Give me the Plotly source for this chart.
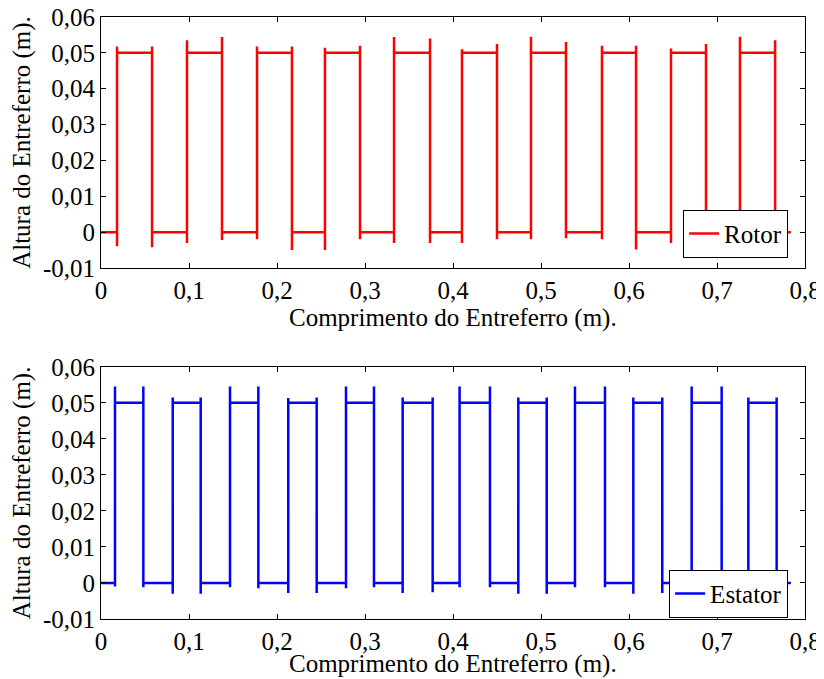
import plotly.graph_objects as go
from plotly.subplots import make_subplots

# plateau height of a tooth (m)
level = 0.05
x_end = 0.784

# Rotor: position of each rising / falling edge (m), and the spike reached there
rotor_rise = [0.0182, 0.0977, 0.1773, 0.2545, 0.333, 0.4102, 0.4886, 0.5693, 0.6477, 0.7261]
rotor_fall = [0.058, 0.1375, 0.217, 0.2943, 0.3739, 0.45, 0.5284, 0.608, 0.6875, 0.766]
rotor_peak_rise = [0.0518, 0.0535, 0.0518, 0.0514, 0.0544, 0.0510, 0.0545, 0.0520, 0.0512, 0.0545]
rotor_peak_fall = [0.0518, 0.0544, 0.0518, 0.0520, 0.0540, 0.0525, 0.0530, 0.0520, 0.0525, 0.0535]
rotor_dip_rise = [-0.0039, -0.0030, -0.0020, -0.0050, -0.0030, -0.0030, -0.0020, -0.0020, -0.0030, -0.0030]
rotor_dip_fall = [-0.0042, -0.0022, -0.0050, -0.0020, -0.0030, -0.0020, -0.0017, -0.0048, -0.0030, -0.0030]

# Estator
estator_rise = [0.0159, 0.0815, 0.1466, 0.2128, 0.2784, 0.3428, 0.4075, 0.4742, 0.5386, 0.6049, 0.6712, 0.7356]
estator_fall = [0.0481, 0.1133, 0.1788, 0.2451, 0.3102, 0.3769, 0.4420, 0.5065, 0.5727, 0.6378, 0.7053, 0.7678]
estator_peak_rise = [0.0545, 0.0515, 0.0545, 0.0513, 0.0545, 0.0515, 0.0545, 0.0515, 0.0545, 0.0515, 0.0545, 0.0515]
estator_peak_fall = [0.0545, 0.0515, 0.0545, 0.0515, 0.0545, 0.0515, 0.0545, 0.0515, 0.0545, 0.0515, 0.0545, 0.0515]
estator_dip_rise = [-0.0010, -0.0030, -0.0012, -0.0028, -0.0015, -0.0028, -0.0012, -0.0030, -0.0012, -0.0030, -0.0012, -0.0028]
estator_dip_fall = [-0.0012, -0.0030, -0.0015, -0.0028, -0.0012, -0.0026, -0.0012, -0.0030, -0.0012, -0.0028, -0.0012, -0.0028]

x_ticks = [0, 0.1, 0.2, 0.3, 0.4, 0.5, 0.6, 0.7, 0.8]
x_labels = ["0", "0,1", "0,2", "0,3", "0,4", "0,5", "0,6", "0,7", "0,8"]
y_ticks = [-0.01, 0, 0.01, 0.02, 0.03, 0.04, 0.05, 0.06]
y_labels = ["-0,01", "0", "0,01", "0,02", "0,03", "0,04", "0,05", "0,06"]

x_title = "Comprimento do Entreferro (m)."
y_title = "Altura do Entreferro (m)."

FONT = "Times New Roman, Liberation Serif, DejaVu Serif, serif"
TXT = dict(family=FONT, size=25, color="black")


def profile(rise, fall, peak_r, peak_f, dip_r, dip_f):
    # walk along the gap: low, dip, jump up with overshoot, plateau, overshoot, drop
    xs, ys = [0.0], [0.0]
    for i in range(len(rise)):
        xs += [rise[i]] * 4 + [fall[i]] * 4
        ys += [0.0, dip_r[i], peak_r[i], level, level, peak_f[i], dip_f[i], 0.0]
    xs.append(x_end)
    ys.append(0.0)
    return xs, ys


fig = make_subplots(rows=2, cols=1)

rx, ry = profile(rotor_rise, rotor_fall, rotor_peak_rise, rotor_peak_fall, rotor_dip_rise, rotor_dip_fall)
sx, sy = profile(estator_rise, estator_fall, estator_peak_rise, estator_peak_fall, estator_dip_rise, estator_dip_fall)

fig.add_trace(go.Scatter(x=rx, y=ry, mode="lines", name="Rotor",
                         line=dict(color="#ff0000", width=2.5), legend="legend"), row=1, col=1)
fig.add_trace(go.Scatter(x=sx, y=sy, mode="lines", name="Estator",
                         line=dict(color="#0000ff", width=2.5), legend="legend2"), row=2, col=1)

axis_style = dict(showline=True, linecolor="black", linewidth=1, mirror="ticks",
                  ticks="inside", ticklen=5, tickcolor="black", showgrid=False,
                  zeroline=False, automargin=False, ticklabeloverflow="allow",
                  tickfont=TXT)

for r in (1, 2):
    fig.update_xaxes(range=[0, 0.8], tickvals=x_ticks, ticktext=x_labels,
                     row=r, col=1, **axis_style)
    fig.update_yaxes(range=[-0.01, 0.06], tickvals=y_ticks, ticktext=y_labels,
                     title=dict(text=y_title, standoff=6, font=TXT),
                     row=r, col=1, **axis_style)

# x titles placed by hand so the lower one stays inside the window
fig.add_annotation(text=x_title, x=0.5, y=0.5, xref="paper", yref="paper",
                   xanchor="center", yanchor="middle", showarrow=False, font=TXT)
fig.add_annotation(text=x_title, x=0.5, y=-0.075, xref="paper", yref="paper",
                   xanchor="center", yanchor="middle", showarrow=False, font=TXT)

legend_style = dict(bgcolor="white", bordercolor="black", borderwidth=1,
                    font=TXT, xanchor="right", yanchor="bottom")

# the page body adds an 8px offset, so margins are trimmed on the left/top
fig.update_layout(
    width=824, height=679,
    margin=dict(l=93, r=27, t=9, b=68),
    paper_bgcolor="white",
    plot_bgcolor="white",
    showlegend=True,
    xaxis=dict(domain=[0, 1]),
    yaxis=dict(domain=[0.583, 1.0]),
    xaxis2=dict(domain=[0, 1]),
    yaxis2=dict(domain=[0.0, 0.419]),
    legend=dict(x=0.976, y=0.600, **legend_style),
    legend2=dict(x=0.976, y=0.002, **legend_style),
)

fig.write_html("out.html")
